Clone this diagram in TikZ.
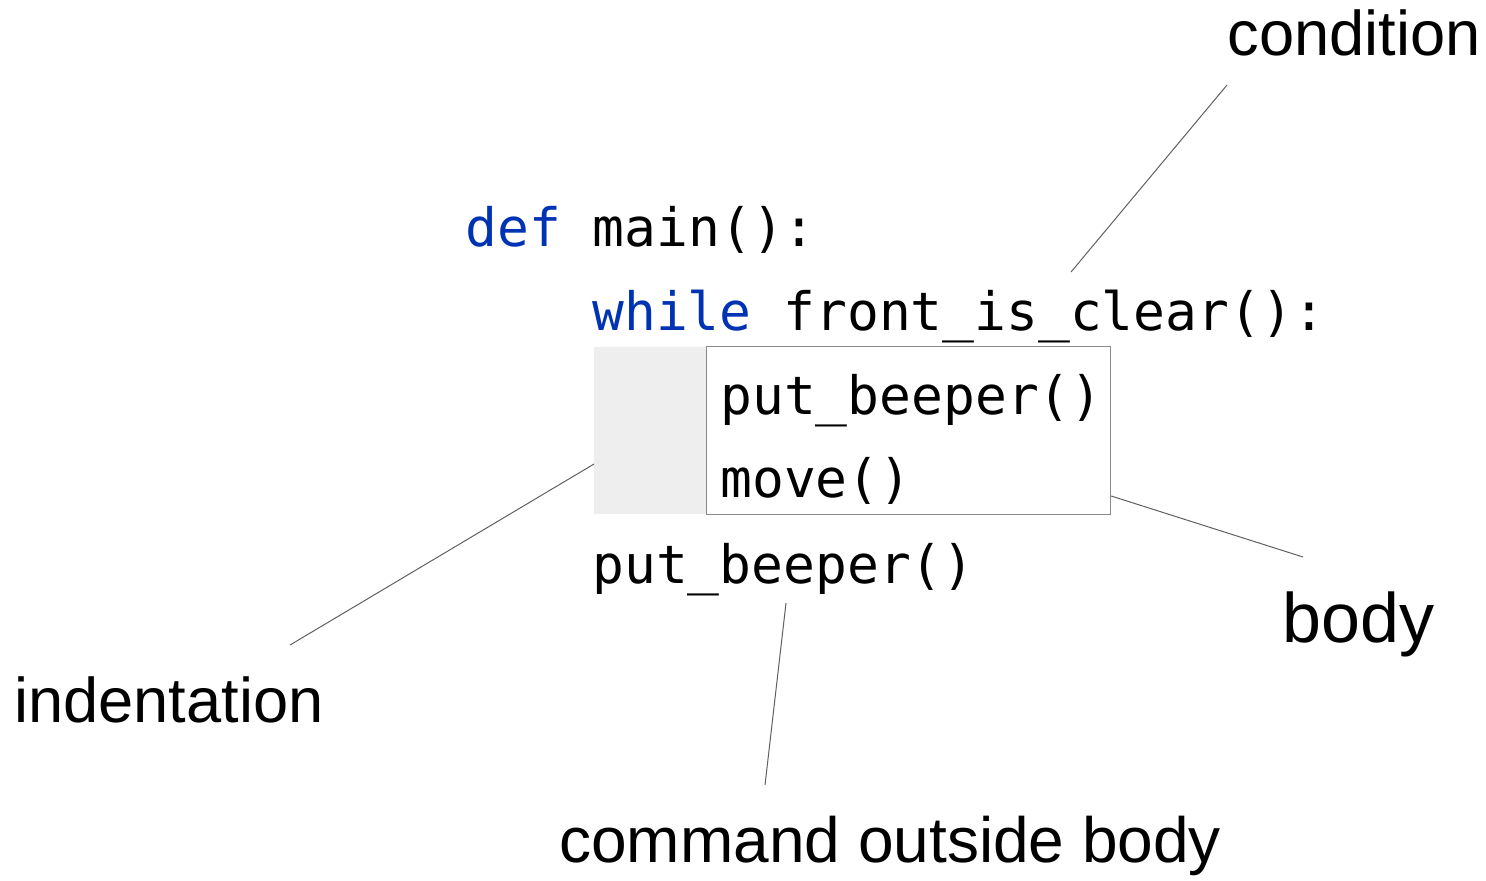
\documentclass[tikz,border=0pt]{standalone}
\usepackage{fontspec}
\setmainfont{Liberation Sans}
\newfontfamily\codefont{DejaVu Sans Mono}
\definecolor{kw}{HTML}{0033B3}
\definecolor{indentgray}{HTML}{EEEEEE}
\definecolor{boxborder}{HTML}{8A8A8A}
\definecolor{leader}{HTML}{606060}
\begin{document}
\begin{tikzpicture}[x=0.5pt,y=-0.5pt,
  code/.style={anchor=base west,inner sep=0pt,font=\codefont\fontsize{26.45pt}{30pt}\selectfont},
  lbl/.style={anchor=base west,inner sep=0pt,font=\fontsize{31.6pt}{36pt}\selectfont},
  leaderline/.style={draw=leader,line width=0.5pt}]
\useasboundingbox (0,0) rectangle (1486,880);
% indentation and body boxes
\node[fill=indentgray,inner sep=0pt,minimum width=112*0.5pt,minimum height=167*0.5pt,anchor=north west] (indent) at (594,347) {};
\node[draw=boxborder,fill=white,line width=0.6pt,inner sep=0pt,minimum width=404*0.5pt,minimum height=168*0.5pt,anchor=north west] (body) at (706,346) {};
% code
\node[code] (def) at (465,246) {\textcolor{kw}{def} main():};
\node[code] (while) at (592,330) {\textcolor{kw}{while} front\_is\_clear():};
\node[code] (put1) at (720,414) {put\_beeper()};
\node[code] (move) at (720,497) {move()};
\node[code] (put2) at (592,583) {put\_beeper()};
% labels
\node[lbl] (condition) at (1227,55) {condition};
\node[lbl,font=\fontsize{35pt}{40pt}\selectfont] (bodylbl) at (1282,642) {body};
\node[lbl] (indentlbl) at (14,722) {indentation};
\node[lbl,font=\fontsize{32pt}{36pt}\selectfont] (outside) at (559,862) {command outside body};
% leader line ends
\coordinate (c1) at (1227,85);
\coordinate (c2) at (1071,272);
\coordinate (i1) at (290,645);
\coordinate (b1) at (1303,557);
\coordinate (o1) at (786,603);
\coordinate (o2) at (765,785);
\draw[leaderline] (c1) -- (c2);
\draw[leaderline] (indent.west |- 0,464) -- (i1);
\draw[leaderline] (body.east |- 0,496) -- (b1);
\draw[leaderline] (o1) -- (o2);
\end{tikzpicture}
\end{document}
